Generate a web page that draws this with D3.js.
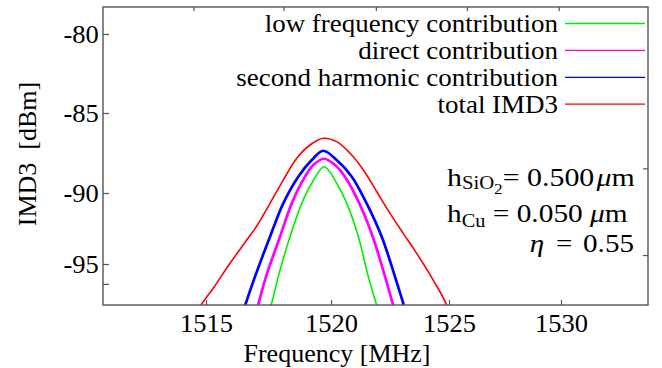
<!DOCTYPE html>
<html>
<head>
<meta charset="utf-8">
<script src="https://cdn.jsdelivr.net/npm/d3@7/dist/d3.min.js"></script>
<style>
  html, body { margin: 0; padding: 0; background: #fff; }
  svg { display: block; }
  svg text { font-family: "Liberation Serif", "Times New Roman", serif; fill: #000; }
</style>
</head>
<body>
<svg id="chart" width="662" height="368"></svg>
<script>
// Frequency axis ticks (MHz) and IMD3 axis ticks (dBm)
const xTickValues = [1515, 1520, 1525, 1530];
const yTickValues = [-80, -85, -90, -95];
const yMinorTicks = [-96.4];
const topTickValues = [1514.5, 1518.1, 1521.9, 1525.8, 1529.9];
const rightTickValues = [-88.46, -94.37];

// IMD3 spectra around the 1520 MHz centre
const lowFreqF  = [1517.3, 1517.59, 1517.89, 1518.36, 1518.83, 1519.23, 1519.73, 1520.24, 1520.67, 1521.16, 1521.58, 1521.94, 1522.1];
const lowFreqDb = [-99.0, -97.94, -95.89, -93.08, -90.73, -89.39, -88.36, -89.39, -90.73, -93.08, -95.89, -97.94, -99.0];

const directF  = [1516.8, 1517.07, 1517.4, 1517.96, 1518.43, 1518.96, 1519.29, 1519.72, 1520.17, 1520.59, 1521.2, 1521.77, 1522.29, 1522.64, 1522.85];
const directDb = [-99.2, -97.94, -95.89, -93.08, -90.73, -88.98, -88.25, -87.86, -88.25, -88.98, -90.73, -93.08, -95.89, -97.94, -99.2];

const secondF  = [1516.3, 1516.56, 1516.96, 1517.56, 1518.09, 1518.69, 1519.23, 1519.69, 1520.24, 1520.88, 1521.51, 1522.15, 1522.71, 1523.09, 1523.3];
const secondDb = [-99.3, -97.94, -95.89, -93.08, -90.73, -88.98, -87.94, -87.36, -87.94, -88.98, -90.73, -93.08, -95.89, -97.94, -99.3];

const totalF  = [1514.5, 1514.79, 1515.29, 1515.96, 1516.63, 1517.03, 1517.56, 1518.09, 1518.63, 1519.16, 1519.69, 1520.24, 1520.81, 1521.37, 1521.94, 1522.5, 1523.06, 1523.63, 1524.33, 1524.9, 1525.2];
const totalDb = [-99.5, -97.94, -96.71, -94.95, -93.31, -92.32, -90.73, -89.19, -87.83, -87.0, -86.58, -86.79, -87.52, -88.56, -89.92, -91.43, -92.84, -94.25, -96.13, -97.89, -99.6];

const seriesNames  = ["low frequency contribution", "direct contribution", "second harmonic contribution", "total IMD3"];
const seriesColors = ["#00ee00", "#ff00ff", "#0000ff", "#ff0000"];
const seriesWidths = [1.6, 2.7, 2.7, 1.6];

const series = [
  { f: lowFreqF, db: lowFreqDb },
  { f: directF,  db: directDb },
  { f: secondF,  db: secondDb },
  { f: totalF,   db: totalDb }
];

const svg = d3.select("#chart");
const plot = { left: 103, right: 648, top: 7, bottom: 305 };
const fontFamily = "Liberation Serif";

// The frequency axis of this plot is slightly compressed toward high
// frequencies, so the scale is defined piecewise through the labelled ticks.
const x = d3.scaleLinear().domain(xTickValues).range([206, 331, 449, 561]);
const y = d3.scaleLinear().domain(yTickValues).range([34, 113, 193, 264]);

svg.append("defs").append("clipPath").attr("id", "plotClip")
  .append("rect")
  .attr("x", plot.left).attr("y", plot.top)
  .attr("width", plot.right - plot.left).attr("height", plot.bottom - plot.top);

// Curves
const line = d3.line()
  .x(d => x(d[0]))
  .y(d => y(d[1]))
  .curve(d3.curveCatmullRom.alpha(0.5));

const curves = svg.append("g").attr("clip-path", "url(#plotClip)");
series.forEach((s, i) => {
  curves.append("path")
    .datum(d3.zip(s.f, s.db))
    .attr("fill", "none")
    .attr("stroke", seriesColors[i])
    .attr("stroke-width", seriesWidths[i])
    .attr("stroke-linejoin", "round")
    .attr("d", line);
});

// Frame
const frameColor = "#555";
svg.append("rect")
  .attr("x", plot.left).attr("y", plot.top)
  .attr("width", plot.right - plot.left).attr("height", plot.bottom - plot.top)
  .attr("fill", "none").attr("stroke", frameColor).attr("stroke-width", 1.4);

function styleTicks(g) {
  g.attr("font-family", fontFamily);
  g.select(".domain").remove();
  g.selectAll(".tick line").attr("stroke", frameColor).attr("stroke-width", 1.2);
}

// Bottom axis (ticks pointing into the plot)
const gx = svg.append("g").attr("transform", `translate(0,${plot.bottom})`)
  .call(d3.axisBottom(x).tickValues(xTickValues).tickSizeInner(-5).tickSizeOuter(0).tickPadding(9).tickFormat(d => String(d)));
styleTicks(gx);
gx.selectAll(".tick text").attr("font-size", 25).attr("transform", "scale(1.06,1)");

// Top axis ticks only
const gt = svg.append("g").attr("transform", `translate(0,${plot.top})`)
  .call(d3.axisTop(x).tickValues(topTickValues).tickSizeInner(-4).tickSizeOuter(0).tickFormat(""));
styleTicks(gt);

// Left axis
const gy = svg.append("g").attr("transform", `translate(${plot.left},0)`)
  .call(d3.axisLeft(y).tickValues(yTickValues).tickSizeInner(-6).tickSizeOuter(0).tickPadding(4).tickFormat(d => String(d)));
styleTicks(gy);
gy.selectAll(".tick text").attr("font-size", 25).attr("transform", "scale(1.06,1)");
const gym = svg.append("g").attr("transform", `translate(${plot.left},0)`)
  .call(d3.axisLeft(y).tickValues(yMinorTicks).tickSizeInner(-6).tickSizeOuter(0).tickFormat(""));
styleTicks(gym);

// Right axis ticks only
const gr = svg.append("g").attr("transform", `translate(${plot.right},0)`)
  .call(d3.axisRight(y).tickValues(rightTickValues).tickSizeInner(-5).tickSizeOuter(0).tickFormat(""));
styleTicks(gr);

// Axis titles
svg.append("text")
  .attr("x", 337).attr("y", 362)
  .attr("text-anchor", "middle")
  .attr("font-size", 26)
  .text("Frequency [MHz]");

svg.append("text")
  .attr("transform", "translate(36,154) rotate(-90)")
  .attr("text-anchor", "middle")
  .attr("font-size", 26)
  .text("IMD3 \u00a0[dBm]");

// Legend
const legend = svg.append("g");
seriesNames.forEach((name, i) => {
  const ly = 23.5 + i * 26.9;
  legend.append("text")
    .attr("transform", `translate(558,${ly + 8.5}) scale(1.1,1)`)
    .attr("text-anchor", "end")
    .attr("font-size", 24.5)
    .text(name);
  legend.append("line")
    .attr("x1", 565).attr("x2", 645)
    .attr("y1", ly).attr("y2", ly)
    .attr("stroke", seriesColors[i])
    .attr("stroke-width", 1.3);
});

// Structure parameters
const ann = svg.append("g").attr("font-size", 26);
const t1 = ann.append("text").attr("transform", "translate(447,186) scale(1.15,1)");
t1.append("tspan").text("h");
t1.append("tspan").attr("dy", 3).attr("font-size", 18).text("SiO");
t1.append("tspan").attr("dy", 5).attr("font-size", 15).text("2");
t1.append("tspan").attr("dy", -8).text("= 0.500");
t1.append("tspan").attr("dx", 2).attr("font-style", "italic").text("\u03bc");
t1.append("tspan").text("m");

const t2 = ann.append("text").attr("transform", "translate(447,222) scale(1.13,1)");
t2.append("tspan").text("h");
t2.append("tspan").attr("dy", 5).attr("font-size", 18).text("Cu");
t2.append("tspan").attr("dy", -5).text(" = 0.050 ");
t2.append("tspan").attr("font-style", "italic").text("\u03bc");
t2.append("tspan").text("m");

const t3 = ann.append("text").attr("transform", "translate(634,252) scale(1.12,1)").attr("text-anchor", "end");
t3.append("tspan").attr("font-style", "italic").text("\u03b7");
t3.append("tspan").attr("dx", 4).text(" =");
t3.append("tspan").attr("dx", 3).text(" 0.55");
</script>
</body>
</html>
